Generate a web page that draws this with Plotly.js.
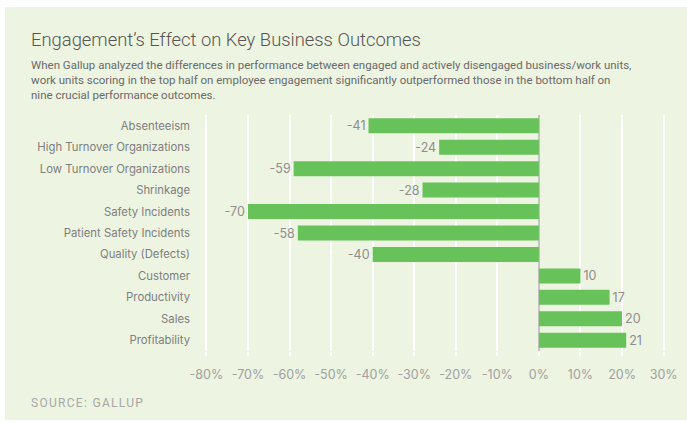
<!DOCTYPE html>
<html>
<head>
<meta charset="utf-8">
<script src="https://cdn.plot.ly/plotly-3.0.1.min.js"></script>
<style>
  html, body { margin: 0; padding: 0; background: #ffffff; width: 687px; height: 423px; overflow: hidden; }
  #chart { position: absolute; left: 5px; top: 7px; width: 682px; height: 413px; }
  #chart g.annotation[data-index="2"] text { letter-spacing: 1.3px; }
</style>
</head>
<body>
<div id="chart"></div>
<script>
const categories = [
  "Absenteeism",
  "High Turnover Organizations",
  "Low Turnover Organizations",
  "Shrinkage",
  "Safety Incidents",
  "Patient Safety Incidents",
  "Quality (Defects)",
  "Customer",
  "Productivity",
  "Sales",
  "Profitability"
];
const values = [-41, -24, -59, -28, -70, -58, -40, 10, 17, 20, 21];
const tickVals = [-80, -70, -60, -50, -40, -30, -20, -10, 0, 10, 20, 30];
const tickText = ["-80%", "-70%", "-60%", "-50%", "-40%", "-30%", "-20%", "-10%", "0%", "10%", "20%", "30%"];

const titleText = "Engagement’s Effect on Key Business Outcomes";
const subtitleText = "When Gallup analyzed the differences in performance between engaged and actively disengaged business/work units,<br>work units scoring in the top half on employee engagement significantly outperformed those in the bottom half on<br>nine crucial performance outcomes.";
const sourceText = "SOURCE: GALLUP";

const W = 682, H = 413;
const M = { l: 191, r: 13, t: 108, b: 69 };
const pw = W - M.l - M.r, ph = H - M.t - M.b;
const px = x => (x - M.l) / pw;
const py = y => 1 - (y - M.t) / ph;

const FONT = "Roboto, 'Open Sans', sans-serif";
const WIDE = "Inter, 'Open Sans', sans-serif";

const trace = {
  type: "bar",
  orientation: "h",
  x: values,
  y: categories,
  marker: { color: "#67c25a" },
  text: values.map(v => String(v)),
  textposition: "outside",
  textfont: { family: WIDE, size: 12.5, color: "#8e8e8e" },
  cliponaxis: false,
  hoverinfo: "none"
};

const layout = {
  width: W,
  height: H,
  margin: M,
  paper_bgcolor: "#edf4e1",
  plot_bgcolor: "#edf4e1",
  showlegend: false,
  bargap: 0.3,
  font: { family: FONT, color: "#777" },
  xaxis: {
    range: [-82.5, 32.5],
    tickvals: tickVals,
    ticktext: tickText,
    showgrid: true,
    gridcolor: "#ffffff",
    gridwidth: 2,
    zeroline: true,
    zerolinecolor: "#c4c4c4",
    zerolinewidth: 2,
    ticks: "outside",
    ticklen: 4,
    tickcolor: "#ffffff",
    tickwidth: 2,
    ticklabelstandoff: 8,
    tickfont: { family: WIDE, size: 12.5, color: "#a0a0a0" },
    showline: false,
    fixedrange: true
  },
  yaxis: {
    type: "category",
    categoryorder: "array",
    categoryarray: categories,
    autorange: "reversed",
    showgrid: false,
    zeroline: false,
    ticks: "",
    ticklabelstandoff: 5,
    tickfont: { family: WIDE, size: 11.3, color: "#7e7e7e" },
    fixedrange: true
  },
  annotations: [
    {
      text: titleText, xref: "paper", yref: "paper",
      x: px(24), y: py(33), xanchor: "left", yanchor: "middle",
      showarrow: false, align: "left",
      font: { family: FONT, size: 18.4, color: "#555555", weight: 300 }
    },
    {
      text: subtitleText, xref: "paper", yref: "paper",
      x: px(24), y: py(73), xanchor: "left", yanchor: "middle",
      showarrow: false, align: "left",
      font: { family: FONT, size: 11.5, color: "#6a6a6a" }
    },
    {
      text: sourceText, xref: "paper", yref: "paper",
      x: px(24), y: py(396), xanchor: "left", yanchor: "middle",
      showarrow: false, align: "left",
      font: { family: FONT, size: 12, color: "#a8a8a8" }
    }
  ]
};

Plotly.newPlot("chart", [trace], layout, { staticPlot: true, displayModeBar: false });
</script>
</body>
</html>
